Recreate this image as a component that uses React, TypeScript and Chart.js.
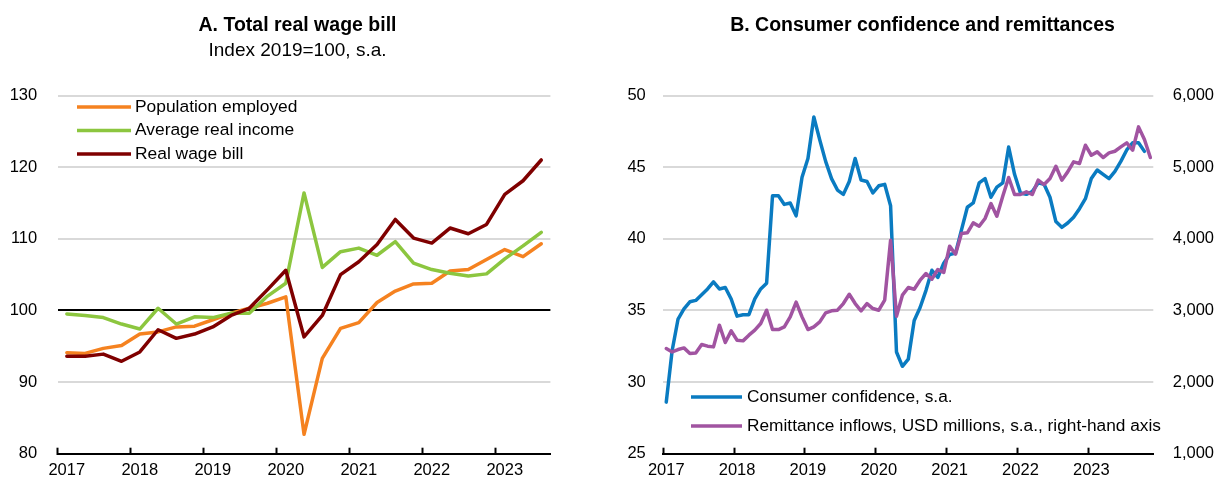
import React, { useEffect, useRef } from "react";
import { Chart, registerables } from "chart.js";

Chart.register(...registerables);

const SANS = "'Liberation Sans', Arial, sans-serif";
const TICK_SIZE = 16.5;

const ORANGE = "#F58220";
const GREEN = "#8CC63F";
const DARK_RED = "#7F0000";
const BLUE = "#0A7BC1";
const PURPLE = "#A154A1";
const GRID = "#D9D9D9";
const CLEAR = "rgba(0,0,0,0)";

const yearTicks = [2017, 2018, 2019, 2020, 2021, 2022, 2023];

// Panel A: quarterly, index 2019 = 100
const quarters = [
  "2017Q1", "2017Q2", "2017Q3", "2017Q4",
  "2018Q1", "2018Q2", "2018Q3", "2018Q4",
  "2019Q1", "2019Q2", "2019Q3", "2019Q4",
  "2020Q1", "2020Q2", "2020Q3", "2020Q4",
  "2021Q1", "2021Q2", "2021Q3", "2021Q4",
  "2022Q1", "2022Q2", "2022Q3", "2022Q4",
  "2023Q1", "2023Q2", "2023Q3",
];
const populationEmployed = [
  94.1, 94.0, 94.7, 95.1, 96.7, 97.0, 97.7, 97.8, 98.7, 99.6, 100.3, 101.0,
  101.9, 82.7, 93.3, 97.5, 98.3, 101.1, 102.7, 103.7, 103.8, 105.5, 105.7,
  107.1, 108.5, 107.5, 109.3,
];
const averageRealIncome = [
  99.5, 99.3, 99.0, 98.1, 97.4, 100.3, 98.1, 99.1, 99.0, 99.6, 99.6, 102.0,
  103.8, 116.4, 106.0, 108.2, 108.7, 107.7, 109.6, 106.6, 105.7, 105.2, 104.8,
  105.1, 107.2, 109.0, 110.9,
];
const realWageBill = [
  93.6, 93.6, 93.9, 92.9, 94.2, 97.3, 96.1, 96.7, 97.7, 99.3, 100.3, 102.9,
  105.6, 96.3, 99.3, 105.0, 106.8, 109.2, 112.7, 110.1, 109.4, 111.5, 110.7,
  112.0, 116.2, 118.1, 121.0,
];

// Panel B: monthly, Jan 2017 - Nov 2023
const monthYears = [2017, 2018, 2019, 2020, 2021, 2022, 2023];
const monthNumbers = ["01", "02", "03", "04", "05", "06", "07", "08", "09", "10", "11", "12"];
const months = monthYears.flatMap((y) => monthNumbers.map((m) => `${y}-${m}`)).slice(0, 83);

const consumerConfidence = [
  28.6, 32.2, 34.4, 35.1, 35.6, 35.7, 36.1, 36.5, 37.0, 36.5, 36.6, 35.8,
  34.6, 34.7, 34.7, 35.8, 36.5, 36.9, 43.0, 43.0, 42.4, 42.5, 41.6, 44.3,
  45.6, 48.5, 46.9, 45.4, 44.2, 43.4, 43.1, 44.0, 45.6, 44.1, 44.0, 43.2,
  43.7, 43.8, 42.3, 32.1, 31.1, 31.6, 34.3, 35.2, 36.4, 37.8, 37.3, 38.3,
  38.9, 39.0, 40.6, 42.2, 42.5, 43.9, 44.2, 42.9, 43.6, 43.9, 46.4, 44.5,
  43.2, 43.1, 43.3, 43.9, 43.8, 42.9, 41.2, 40.8, 41.1, 41.5, 42.1, 42.8,
  44.2, 44.8, 44.5, 44.2, 44.7, 45.4, 46.2, 46.7, 46.7, 46.1,
];
const remittanceInflows = [
  2468, 2421, 2454, 2477, 2398, 2407, 2524, 2501, 2491, 2794, 2552, 2715,
  2584, 2575, 2654, 2724, 2817, 3003, 2733, 2733, 2771, 2910, 3115, 2910,
  2733, 2771, 2840, 2966, 2994, 3003, 3096, 3226, 3096, 2994, 3096, 3026,
  3003, 3143, 3980, 2920, 3213, 3320, 3296, 3422, 3515, 3436, 3571, 3529,
  3897, 3785, 4073, 4083, 4222, 4175, 4283, 4492, 4315, 4594, 4855, 4618,
  4618, 4655, 4618, 4818, 4757, 4841, 5013, 4818, 4934, 5074, 5051, 5306,
  5166, 5213, 5134, 5199, 5222, 5283, 5339, 5236, 5562, 5385, 5134,
];

const quarterToX = (q: string) => Number(q.slice(0, 4)) + (Number(q.slice(5)) - 0.5) / 4;
const monthToX = (m: string) => Number(m.slice(0, 4)) + (Number(m.slice(5)) - 0.5) / 12;

const CANVAS_H = 479;
const PLOT_BOTTOM = 453.7;
const TICK_LEN = 6;

function insideLegend(id: string, x0: number, x1: number, textX: number, rows: number[], font: string) {
  return {
    id,
    afterDatasetsDraw(chart: any) {
      const ctx = chart.ctx as CanvasRenderingContext2D;
      ctx.save();
      chart.data.datasets.forEach((ds: any, i: number) => {
        const y = rows[i];
        ctx.strokeStyle = ds.borderColor;
        ctx.lineWidth = 3.5;
        ctx.lineCap = "butt";
        ctx.beginPath();
        ctx.moveTo(x0, y);
        ctx.lineTo(x1, y);
        ctx.stroke();
        ctx.fillStyle = "#000";
        ctx.font = font;
        ctx.textAlign = "left";
        ctx.textBaseline = "middle";
        ctx.fillText(ds.label, textX, y);
      });
      ctx.restore();
    },
  };
}

const lineStyle = {
  borderWidth: 3.5,
  pointRadius: 0,
  pointHoverRadius: 0,
  tension: 0,
  fill: false,
  borderJoinStyle: "round" as const,
  borderCapStyle: "round" as const,
};

const xAxis = (max: number, labelOffset: number) => ({
  type: "linear" as const,
  position: "bottom" as const,
  min: 2017,
  max,
  afterBuildTicks: (s: any) => {
    s.ticks = yearTicks.map((v) => ({ value: v }));
  },
  afterFit: (s: any) => {
    s.height = CANVAS_H - PLOT_BOTTOM;
  },
  ticks: {
    includeBounds: false,
    autoSkip: false,
    maxRotation: 0,
    minRotation: 0,
    labelOffset,
    padding: 12.5,
    color: "#000",
    font: { family: SANS, size: TICK_SIZE },
    callback: (v: any) => String(v),
  },
  grid: {
    display: true,
    drawOnChartArea: false,
    drawTicks: true,
    tickLength: -TICK_LEN,
    tickWidth: 2,
    tickColor: "#000",
  },
  border: { display: true, color: "#000", width: 2 },
});

// Vertical axis: the gap between labels and plot comes from an invisible tick mark,
// so that tick padding does not enlarge the chart's vertical layout padding.
const valueAxis = (
  position: "left" | "right",
  min: number,
  max: number,
  stepSize: number,
  width: number,
  gap: number,
  gridColor: ((c: any) => string) | null,
  format?: (v: any) => string
) => ({
  position,
  min,
  max,
  afterFit: (s: any) => {
    s.width = width;
  },
  ticks: {
    stepSize,
    padding: 0,
    color: "#000",
    font: { family: SANS, size: TICK_SIZE },
    ...(format ? { callback: format } : {}),
  },
  grid: {
    display: true,
    drawOnChartArea: gridColor !== null,
    drawTicks: true,
    tickLength: gap,
    tickColor: CLEAR,
    lineWidth: 2,
    color: gridColor || CLEAR,
  },
  border: { display: false },
});

function ChartA() {
  const ref = useRef<HTMLCanvasElement>(null);
  useEffect(() => {
    const chart = new Chart(ref.current!, {
      type: "line",
      data: {
        datasets: [
          {
            label: "Population employed",
            data: quarters.map((q, i) => ({ x: quarterToX(q), y: populationEmployed[i] })),
            borderColor: ORANGE,
            order: 2,
            ...lineStyle,
          },
          {
            label: "Average real income",
            data: quarters.map((q, i) => ({ x: quarterToX(q), y: averageRealIncome[i] })),
            borderColor: GREEN,
            order: 1,
            ...lineStyle,
          },
          {
            label: "Real wage bill",
            data: quarters.map((q, i) => ({ x: quarterToX(q), y: realWageBill[i] })),
            borderColor: DARK_RED,
            order: 0,
            ...lineStyle,
          },
        ],
      },
      options: {
        animation: false,
        responsive: false,
        maintainAspectRatio: false,
        events: [],
        layout: { padding: 0 },
        plugins: {
          legend: { display: false },
          tooltip: { enabled: false },
          title: {
            display: true,
            text: "A. Total real wage bill",
            color: "#000",
            font: { family: SANS, size: 19.5, weight: "bold", lineHeight: 1 },
            padding: { top: 15.5, bottom: 3 },
          },
          subtitle: {
            display: true,
            text: "Index 2019=100, s.a.",
            color: "#000",
            font: { family: SANS, size: 19, lineHeight: 1 },
            padding: { top: 3.5, bottom: 35 },
          },
        },
        scales: {
          x: xAxis(2023.75, 9.1),
          y: valueAxis("left", 80, 130, 10, 57.7, 20.5, (c: any) =>
            c.tick && c.tick.value === 100 ? "#000" : c.tick && c.tick.value === 80 ? CLEAR : GRID
          ),
          yPad: {
            position: "right",
            min: 0,
            max: 1,
            afterFit: (s: any) => {
              s.width = 44.6;
            },
            ticks: { display: false, padding: 0 },
            grid: { display: false },
            border: { display: false },
          },
        },
      } as any,
      plugins: [insideLegend("legendA", 77, 131, 135, [107, 130.5, 154], `17.4px ${SANS}`)],
    });
    return () => chart.destroy();
  }, []);
  return (
    <canvas
      ref={ref}
      width={595}
      height={CANVAS_H}
      style={{ position: "absolute", left: 0, top: 0, width: 595, height: CANVAS_H }}
    />
  );
}

function ChartB() {
  const ref = useRef<HTMLCanvasElement>(null);
  useEffect(() => {
    const chart = new Chart(ref.current!, {
      type: "line",
      data: {
        datasets: [
          {
            label: "Consumer confidence, s.a.",
            data: consumerConfidence.map((v, i) => ({ x: monthToX(months[i]), y: v })),
            borderColor: BLUE,
            yAxisID: "y",
            order: 1,
            ...lineStyle,
          },
          {
            label: "Remittance inflows, USD millions, s.a., right-hand axis",
            data: remittanceInflows.map((v, i) => ({ x: monthToX(months[i]), y: v })),
            borderColor: PURPLE,
            yAxisID: "y2",
            order: 0,
            ...lineStyle,
          },
        ],
      },
      options: {
        animation: false,
        responsive: false,
        maintainAspectRatio: false,
        events: [],
        layout: { padding: { left: 12, right: 0, top: 0, bottom: 0 } },
        plugins: {
          legend: { display: false },
          tooltip: { enabled: false },
          title: {
            display: true,
            text: "B. Consumer confidence and remittances",
            color: "#000",
            font: { family: SANS, size: 19.5, weight: "bold", lineHeight: 1 },
            padding: { top: 15.5, bottom: 60.5 },
          },
        },
        scales: {
          x: xAxis(2017 + 83 / 12, 2.95),
          y: valueAxis("left", 25, 50, 5, 36.3, 17.5, (c: any) =>
            c.tick && c.tick.value === 25 ? CLEAR : GRID
          ),
          y2: valueAxis("right", 1000, 6000, 1000, 64.7, 19.4, null, (v: any) =>
            Number(v).toLocaleString("en-US")
          ),
        },
      } as any,
      plugins: [insideLegend("legendB", 76, 127, 132, [397, 426], `17.3px ${SANS}`)],
    });
    return () => chart.destroy();
  }, []);
  return (
    <canvas
      ref={ref}
      width={603}
      height={CANVAS_H}
      style={{ position: "absolute", left: 615, top: 0, width: 603, height: CANVAS_H }}
    />
  );
}

export default function App() {
  return (
    <div
      style={{
        position: "fixed",
        left: 0,
        top: 0,
        width: 1218,
        height: CANVAS_H,
        background: "#fff",
        overflow: "hidden",
      }}
    >
      <ChartA />
      <ChartB />
    </div>
  );
}
